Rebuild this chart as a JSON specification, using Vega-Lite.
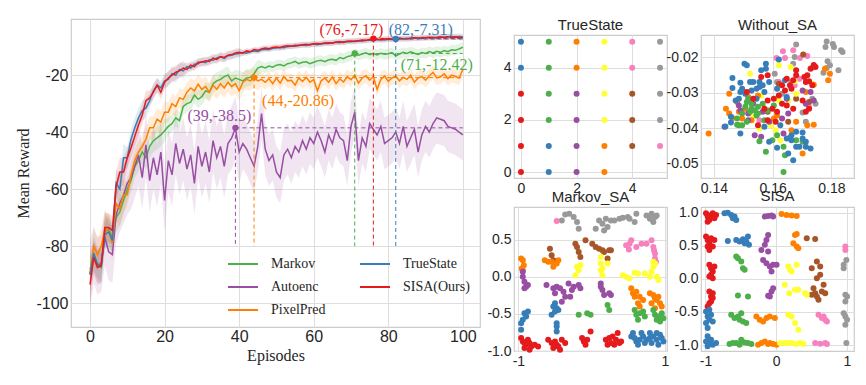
{
"$schema":"https://vega.github.io/schema/vega-lite/v6.json",
"padding":{"left":15,"top":17,"right":5,"bottom":5},
"background":"white",
"datasets":{
"lines":[
{"s":"Markov","e":0,"m":-88,"w":5},{"s":"Markov","e":1,"m":-84,"w":5},{"s":"Markov","e":2,"m":-86,"w":5},{"s":"Markov","e":3,"m":-87.5,"w":5},{"s":"Markov","e":4,"m":-75,"w":5},{"s":"Markov","e":5,"m":-74,"w":5},{"s":"Markov","e":6,"m":-77,"w":5},{"s":"Markov","e":7,"m":-70,"w":5},{"s":"Markov","e":8,"m":-68,"w":5},{"s":"Markov","e":9,"m":-64,"w":5},
{"s":"Markov","e":10,"m":-60,"w":4},{"s":"Markov","e":11,"m":-57,"w":4},{"s":"Markov","e":12,"m":-52,"w":4},{"s":"Markov","e":13,"m":-50,"w":4},{"s":"Markov","e":14,"m":-47,"w":4},{"s":"Markov","e":15,"m":-49,"w":4},{"s":"Markov","e":16,"m":-45,"w":4},{"s":"Markov","e":17,"m":-43,"w":4},{"s":"Markov","e":18,"m":-42,"w":4},{"s":"Markov","e":19,"m":-41,"w":4},{"s":"Markov","e":20,"m":-39.5,"w":4},
{"s":"Markov","e":21,"m":-38,"w":3},{"s":"Markov","e":22,"m":-37,"w":3},{"s":"Markov","e":23,"m":-35,"w":3},{"s":"Markov","e":24,"m":-36,"w":3},{"s":"Markov","e":25,"m":-31,"w":3},{"s":"Markov","e":26,"m":-30,"w":3},{"s":"Markov","e":27,"m":-29.5,"w":3},{"s":"Markov","e":28,"m":-27,"w":3},{"s":"Markov","e":29,"m":-28.5,"w":3},{"s":"Markov","e":30,"m":-27.5,"w":3},
{"s":"Markov","e":31,"m":-25.5,"w":3},{"s":"Markov","e":32,"m":-26,"w":3},{"s":"Markov","e":33,"m":-23,"w":3},{"s":"Markov","e":34,"m":-22,"w":3},{"s":"Markov","e":35,"m":-21.5,"w":3},{"s":"Markov","e":36,"m":-20.5,"w":3},{"s":"Markov","e":37,"m":-20,"w":3},{"s":"Markov","e":38,"m":-22,"w":3},{"s":"Markov","e":39,"m":-21,"w":3},{"s":"Markov","e":40,"m":-21.5,"w":3},
{"s":"Markov","e":41,"m":-22,"w":3},{"s":"Markov","e":42,"m":-21,"w":3},{"s":"Markov","e":43,"m":-20.8,"w":3},{"s":"Markov","e":44,"m":-19.5,"w":3},{"s":"Markov","e":45,"m":-17.5,"w":3},{"s":"Markov","e":46,"m":-17,"w":1.8},{"s":"Markov","e":47,"m":-17.5,"w":1.8},{"s":"Markov","e":48,"m":-16.8,"w":1.8},{"s":"Markov","e":49,"m":-17.2,"w":1.8},{"s":"Markov","e":50,"m":-16.5,"w":1.8},
{"s":"Markov","e":51,"m":-16.3,"w":1.8},{"s":"Markov","e":52,"m":-16.8,"w":1.8},{"s":"Markov","e":53,"m":-16,"w":1.8},{"s":"Markov","e":54,"m":-15.7,"w":1.8},{"s":"Markov","e":55,"m":-15.2,"w":1.8},{"s":"Markov","e":56,"m":-16,"w":1.8},{"s":"Markov","e":57,"m":-15.5,"w":1.8},{"s":"Markov","e":58,"m":-15.3,"w":1.8},{"s":"Markov","e":59,"m":-16,"w":1.8},{"s":"Markov","e":60,"m":-15.5,"w":1.8},
{"s":"Markov","e":61,"m":-15,"w":1.8},{"s":"Markov","e":62,"m":-14.8,"w":1.8},{"s":"Markov","e":63,"m":-15.3,"w":1.8},{"s":"Markov","e":64,"m":-14.6,"w":1.8},{"s":"Markov","e":65,"m":-14.4,"w":1.8},{"s":"Markov","e":66,"m":-14.8,"w":1.8},{"s":"Markov","e":67,"m":-13.8,"w":1.8},{"s":"Markov","e":68,"m":-14.2,"w":1.8},{"s":"Markov","e":69,"m":-13.5,"w":1.8},{"s":"Markov","e":70,"m":-13.2,"w":1.8},
{"s":"Markov","e":71,"m":-12.42,"w":1.8},{"s":"Markov","e":72,"m":-13,"w":1.8},{"s":"Markov","e":73,"m":-12.6,"w":1.8},{"s":"Markov","e":74,"m":-12.2,"w":1.8},{"s":"Markov","e":75,"m":-12.8,"w":1.8},{"s":"Markov","e":76,"m":-12.4,"w":1.8},{"s":"Markov","e":77,"m":-12.9,"w":1.8},{"s":"Markov","e":78,"m":-12.3,"w":1.8},{"s":"Markov","e":79,"m":-12.7,"w":1.8},{"s":"Markov","e":80,"m":-12.5,"w":1.8},
{"s":"Markov","e":81,"m":-12.1,"w":1.8},{"s":"Markov","e":82,"m":-13.2,"w":1.8},{"s":"Markov","e":83,"m":-12.6,"w":1.8},{"s":"Markov","e":84,"m":-12,"w":1.8},{"s":"Markov","e":85,"m":-12.4,"w":1.8},{"s":"Markov","e":86,"m":-11.8,"w":1.8},{"s":"Markov","e":87,"m":-12.3,"w":1.8},{"s":"Markov","e":88,"m":-12.7,"w":1.8},{"s":"Markov","e":89,"m":-12.1,"w":1.8},{"s":"Markov","e":90,"m":-12.4,"w":1.8},
{"s":"Markov","e":91,"m":-11.7,"w":1.8},{"s":"Markov","e":92,"m":-12.2,"w":1.8},{"s":"Markov","e":93,"m":-11.6,"w":1.8},{"s":"Markov","e":94,"m":-12,"w":1.8},{"s":"Markov","e":95,"m":-11.4,"w":1.8},{"s":"Markov","e":96,"m":-11.8,"w":1.8},{"s":"Markov","e":97,"m":-11.1,"w":1.8},{"s":"Markov","e":98,"m":-11.3,"w":1.8},{"s":"Markov","e":99,"m":-10.8,"w":1.8},{"s":"Markov","e":100,"m":-10.2,"w":1.8},
{"s":"Autoenc","e":0,"m":-90,"w":12},{"s":"Autoenc","e":1,"m":-83,"w":10},{"s":"Autoenc","e":2,"m":-87,"w":10},{"s":"Autoenc","e":3,"m":-86,"w":10},{"s":"Autoenc","e":4,"m":-77,"w":10},{"s":"Autoenc","e":5,"m":-82,"w":10},{"s":"Autoenc","e":6,"m":-83,"w":10},{"s":"Autoenc","e":7,"m":-69,"w":10},{"s":"Autoenc","e":8,"m":-65,"w":10},{"s":"Autoenc","e":9,"m":-62,"w":10},
{"s":"Autoenc","e":10,"m":-58,"w":11},{"s":"Autoenc","e":11,"m":-56,"w":11},{"s":"Autoenc","e":12,"m":-52,"w":11},{"s":"Autoenc","e":13,"m":-48,"w":11},{"s":"Autoenc","e":14,"m":-56,"w":11},{"s":"Autoenc","e":15,"m":-44.5,"w":11},{"s":"Autoenc","e":16,"m":-57,"w":11},{"s":"Autoenc","e":17,"m":-49,"w":11},{"s":"Autoenc","e":18,"m":-55,"w":11},{"s":"Autoenc","e":19,"m":-47,"w":11},{"s":"Autoenc","e":20,"m":-64,"w":11},
{"s":"Autoenc","e":21,"m":-50,"w":11},{"s":"Autoenc","e":22,"m":-55,"w":11},{"s":"Autoenc","e":23,"m":-44,"w":11},{"s":"Autoenc","e":24,"m":-51,"w":11},{"s":"Autoenc","e":25,"m":-46,"w":11},{"s":"Autoenc","e":26,"m":-53,"w":11},{"s":"Autoenc","e":27,"m":-48,"w":11},{"s":"Autoenc","e":28,"m":-58,"w":11},{"s":"Autoenc","e":29,"m":-45,"w":11},{"s":"Autoenc","e":30,"m":-52,"w":11},
{"s":"Autoenc","e":31,"m":-47,"w":11},{"s":"Autoenc","e":32,"m":-54,"w":11},{"s":"Autoenc","e":33,"m":-43,"w":11},{"s":"Autoenc","e":34,"m":-49,"w":11},{"s":"Autoenc","e":35,"m":-45,"w":11},{"s":"Autoenc","e":36,"m":-52,"w":11},{"s":"Autoenc","e":37,"m":-44,"w":11},{"s":"Autoenc","e":38,"m":-42,"w":11},{"s":"Autoenc","e":39,"m":-38.5,"w":11},{"s":"Autoenc","e":40,"m":-47,"w":11},
{"s":"Autoenc","e":41,"m":-44,"w":9},{"s":"Autoenc","e":42,"m":-46,"w":9},{"s":"Autoenc","e":43,"m":-49,"w":9},{"s":"Autoenc","e":44,"m":-52,"w":9},{"s":"Autoenc","e":45,"m":-45,"w":9},{"s":"Autoenc","e":46,"m":-33.5,"w":9},{"s":"Autoenc","e":47,"m":-46,"w":9},{"s":"Autoenc","e":48,"m":-50,"w":9},{"s":"Autoenc","e":49,"m":-48,"w":9},{"s":"Autoenc","e":50,"m":-54,"w":9},
{"s":"Autoenc","e":51,"m":-56,"w":9},{"s":"Autoenc","e":52,"m":-48,"w":9},{"s":"Autoenc","e":53,"m":-46,"w":9},{"s":"Autoenc","e":54,"m":-49,"w":9},{"s":"Autoenc","e":55,"m":-45,"w":9},{"s":"Autoenc","e":56,"m":-47,"w":9},{"s":"Autoenc","e":57,"m":-43,"w":9},{"s":"Autoenc","e":58,"m":-46,"w":9},{"s":"Autoenc","e":59,"m":-42,"w":9},{"s":"Autoenc","e":60,"m":-44,"w":9},
{"s":"Autoenc","e":61,"m":-40,"w":9},{"s":"Autoenc","e":62,"m":-43,"w":9},{"s":"Autoenc","e":63,"m":-47,"w":9},{"s":"Autoenc","e":64,"m":-41,"w":9},{"s":"Autoenc","e":65,"m":-44,"w":9},{"s":"Autoenc","e":66,"m":-39,"w":9},{"s":"Autoenc","e":67,"m":-42,"w":9},{"s":"Autoenc","e":68,"m":-43,"w":9},{"s":"Autoenc","e":69,"m":-50,"w":9},{"s":"Autoenc","e":70,"m":-38,"w":9},
{"s":"Autoenc","e":71,"m":-33,"w":9},{"s":"Autoenc","e":72,"m":-50,"w":9},{"s":"Autoenc","e":73,"m":-42,"w":9},{"s":"Autoenc","e":74,"m":-45,"w":9},{"s":"Autoenc","e":75,"m":-37,"w":9},{"s":"Autoenc","e":76,"m":-39,"w":9},{"s":"Autoenc","e":77,"m":-41,"w":9},{"s":"Autoenc","e":78,"m":-38,"w":9},{"s":"Autoenc","e":79,"m":-44,"w":9},{"s":"Autoenc","e":80,"m":-43,"w":9},
{"s":"Autoenc","e":81,"m":-42,"w":9},{"s":"Autoenc","e":82,"m":-40,"w":9},{"s":"Autoenc","e":83,"m":-44,"w":9},{"s":"Autoenc","e":84,"m":-38,"w":9},{"s":"Autoenc","e":85,"m":-45,"w":9},{"s":"Autoenc","e":86,"m":-42,"w":9},{"s":"Autoenc","e":87,"m":-39,"w":9},{"s":"Autoenc","e":88,"m":-47,"w":9},{"s":"Autoenc","e":89,"m":-41,"w":9},{"s":"Autoenc","e":90,"m":-38,"w":9},
{"s":"Autoenc","e":91,"m":-40,"w":9},{"s":"Autoenc","e":92,"m":-37,"w":9},{"s":"Autoenc","e":93,"m":-35,"w":9},{"s":"Autoenc","e":94,"m":-35.5,"w":9},{"s":"Autoenc","e":95,"m":-36,"w":9},{"s":"Autoenc","e":96,"m":-38,"w":9},{"s":"Autoenc","e":97,"m":-38.5,"w":9},{"s":"Autoenc","e":98,"m":-39,"w":9},{"s":"Autoenc","e":99,"m":-40,"w":9},{"s":"Autoenc","e":100,"m":-41,"w":9},
{"s":"PixelPred","e":0,"m":-89.5,"w":6},{"s":"PixelPred","e":1,"m":-80,"w":6},{"s":"PixelPred","e":2,"m":-83,"w":6},{"s":"PixelPred","e":3,"m":-80,"w":6},{"s":"PixelPred","e":4,"m":-74,"w":6},{"s":"PixelPred","e":5,"m":-74.5,"w":6},{"s":"PixelPred","e":6,"m":-79,"w":6},{"s":"PixelPred","e":7,"m":-65,"w":6},{"s":"PixelPred","e":8,"m":-67,"w":6},{"s":"PixelPred","e":9,"m":-62,"w":6},
{"s":"PixelPred","e":10,"m":-62,"w":4},{"s":"PixelPred","e":11,"m":-55,"w":4},{"s":"PixelPred","e":12,"m":-50,"w":4},{"s":"PixelPred","e":13,"m":-47,"w":4},{"s":"PixelPred","e":14,"m":-45,"w":4},{"s":"PixelPred","e":15,"m":-42.5,"w":4},{"s":"PixelPred","e":16,"m":-38.5,"w":4},{"s":"PixelPred","e":17,"m":-38.5,"w":4},{"s":"PixelPred","e":18,"m":-35.5,"w":4},{"s":"PixelPred","e":19,"m":-36.5,"w":4},{"s":"PixelPred","e":20,"m":-33,"w":4},
{"s":"PixelPred","e":21,"m":-33,"w":3.5},{"s":"PixelPred","e":22,"m":-30,"w":3.5},{"s":"PixelPred","e":23,"m":-31,"w":3.5},{"s":"PixelPred","e":24,"m":-28,"w":3.5},{"s":"PixelPred","e":25,"m":-28.5,"w":3.5},{"s":"PixelPred","e":26,"m":-26,"w":3.5},{"s":"PixelPred","e":27,"m":-24.5,"w":3.5},{"s":"PixelPred","e":28,"m":-25.5,"w":3.5},{"s":"PixelPred","e":29,"m":-23.2,"w":3.5},{"s":"PixelPred","e":30,"m":-25,"w":3.5},
{"s":"PixelPred","e":31,"m":-24,"w":3.5},{"s":"PixelPred","e":32,"m":-26,"w":3.5},{"s":"PixelPred","e":33,"m":-23.5,"w":3.5},{"s":"PixelPred","e":34,"m":-25,"w":3.5},{"s":"PixelPred","e":35,"m":-23,"w":3.5},{"s":"PixelPred","e":36,"m":-24.5,"w":3.5},{"s":"PixelPred","e":37,"m":-22.5,"w":3.5},{"s":"PixelPred","e":38,"m":-24,"w":3.5},{"s":"PixelPred","e":39,"m":-23,"w":3.5},{"s":"PixelPred","e":40,"m":-25.5,"w":3.5},
{"s":"PixelPred","e":41,"m":-22.5,"w":3.5},{"s":"PixelPred","e":42,"m":-21.5,"w":3.5},{"s":"PixelPred","e":43,"m":-22,"w":3.5},{"s":"PixelPred","e":44,"m":-20.86,"w":3.5},{"s":"PixelPred","e":45,"m":-22,"w":3.5},{"s":"PixelPred","e":46,"m":-21.5,"w":2.5},{"s":"PixelPred","e":47,"m":-22.5,"w":2.5},{"s":"PixelPred","e":48,"m":-21.2,"w":2.5},{"s":"PixelPred","e":49,"m":-23,"w":2.5},{"s":"PixelPred","e":50,"m":-21,"w":2.5},
{"s":"PixelPred","e":51,"m":-22.8,"w":2.5},{"s":"PixelPred","e":52,"m":-20.5,"w":2.5},{"s":"PixelPred","e":53,"m":-22,"w":2.5},{"s":"PixelPred","e":54,"m":-21.8,"w":2.5},{"s":"PixelPred","e":55,"m":-23.5,"w":2.5},{"s":"PixelPred","e":56,"m":-21,"w":2.5},{"s":"PixelPred","e":57,"m":-22.2,"w":2.5},{"s":"PixelPred","e":58,"m":-20.8,"w":2.5},{"s":"PixelPred","e":59,"m":-22.5,"w":2.5},{"s":"PixelPred","e":60,"m":-21.5,"w":2.5},
{"s":"PixelPred","e":61,"m":-25.5,"w":2.5},{"s":"PixelPred","e":62,"m":-22,"w":2.5},{"s":"PixelPred","e":63,"m":-21,"w":2.5},{"s":"PixelPred","e":64,"m":-22.5,"w":2.5},{"s":"PixelPred","e":65,"m":-20.6,"w":2.5},{"s":"PixelPred","e":66,"m":-23,"w":2.5},{"s":"PixelPred","e":67,"m":-21.3,"w":2.5},{"s":"PixelPred","e":68,"m":-22.4,"w":2.5},{"s":"PixelPred","e":69,"m":-20.5,"w":2.5},{"s":"PixelPred","e":70,"m":-21.6,"w":2.5},
{"s":"PixelPred","e":71,"m":-20,"w":2.5},{"s":"PixelPred","e":72,"m":-22.8,"w":2.5},{"s":"PixelPred","e":73,"m":-21,"w":2.5},{"s":"PixelPred","e":74,"m":-20.2,"w":2.5},{"s":"PixelPred","e":75,"m":-21.8,"w":2.5},{"s":"PixelPred","e":76,"m":-20.5,"w":2.5},{"s":"PixelPred","e":77,"m":-25,"w":2.5},{"s":"PixelPred","e":78,"m":-21.5,"w":2.5},{"s":"PixelPred","e":79,"m":-20.3,"w":2.5},{"s":"PixelPred","e":80,"m":-22.2,"w":2.5},
{"s":"PixelPred","e":81,"m":-21,"w":2.5},{"s":"PixelPred","e":82,"m":-20.4,"w":2.5},{"s":"PixelPred","e":83,"m":-22,"w":2.5},{"s":"PixelPred","e":84,"m":-20.8,"w":2.5},{"s":"PixelPred","e":85,"m":-21.5,"w":2.5},{"s":"PixelPred","e":86,"m":-20,"w":2.5},{"s":"PixelPred","e":87,"m":-22.5,"w":2.5},{"s":"PixelPred","e":88,"m":-21,"w":2.5},{"s":"PixelPred","e":89,"m":-20.5,"w":2.5},{"s":"PixelPred","e":90,"m":-21.8,"w":2.5},
{"s":"PixelPred","e":91,"m":-20.2,"w":2.5},{"s":"PixelPred","e":92,"m":-19,"w":2.5},{"s":"PixelPred","e":93,"m":-21,"w":2.5},{"s":"PixelPred","e":94,"m":-20.6,"w":2.5},{"s":"PixelPred","e":95,"m":-19.5,"w":2.5},{"s":"PixelPred","e":96,"m":-21.2,"w":2.5},{"s":"PixelPred","e":97,"m":-20,"w":2.5},{"s":"PixelPred","e":98,"m":-20.5,"w":2.5},{"s":"PixelPred","e":99,"m":-21,"w":2.5},{"s":"PixelPred","e":100,"m":-18,"w":2.5},
{"s":"TrueState","e":0,"m":-90,"w":6},{"s":"TrueState","e":1,"m":-82.5,"w":6},{"s":"TrueState","e":2,"m":-86.5,"w":6},{"s":"TrueState","e":3,"m":-87,"w":6},{"s":"TrueState","e":4,"m":-76,"w":5},{"s":"TrueState","e":5,"m":-75,"w":5},{"s":"TrueState","e":6,"m":-78,"w":5},{"s":"TrueState","e":7,"m":-58,"w":5},{"s":"TrueState","e":8,"m":-60,"w":5},{"s":"TrueState","e":9,"m":-49,"w":5},
{"s":"TrueState","e":10,"m":-49,"w":3.5},{"s":"TrueState","e":11,"m":-42.5,"w":3.5},{"s":"TrueState","e":12,"m":-38.5,"w":3.5},{"s":"TrueState","e":13,"m":-35,"w":3.5},{"s":"TrueState","e":14,"m":-32.5,"w":3.5},{"s":"TrueState","e":15,"m":-31.5,"w":3.5},{"s":"TrueState","e":16,"m":-29,"w":2.5},{"s":"TrueState","e":17,"m":-25.5,"w":2.5},{"s":"TrueState","e":18,"m":-23.5,"w":2.5},{"s":"TrueState","e":19,"m":-24.5,"w":2.5},{"s":"TrueState","e":20,"m":-22,"w":2.5},
{"s":"TrueState","e":21,"m":-21.5,"w":2.5},{"s":"TrueState","e":22,"m":-19.5,"w":2.5},{"s":"TrueState","e":23,"m":-20,"w":2.5},{"s":"TrueState","e":24,"m":-18,"w":2.5},{"s":"TrueState","e":25,"m":-18.5,"w":2.5},{"s":"TrueState","e":26,"m":-17,"w":1.5},{"s":"TrueState","e":27,"m":-17.5,"w":1.5},{"s":"TrueState","e":28,"m":-16.2,"w":1.5},{"s":"TrueState","e":29,"m":-16,"w":1.5},{"s":"TrueState","e":30,"m":-15.2,"w":1.5},
{"s":"TrueState","e":31,"m":-15.6,"w":1.5},{"s":"TrueState","e":32,"m":-14.6,"w":1.5},{"s":"TrueState","e":33,"m":-14.8,"w":1.5},{"s":"TrueState","e":34,"m":-14,"w":1.5},{"s":"TrueState","e":35,"m":-13.6,"w":1.5},{"s":"TrueState","e":36,"m":-14.1,"w":1.5},{"s":"TrueState","e":37,"m":-13.2,"w":1.5},{"s":"TrueState","e":38,"m":-13,"w":1.5},{"s":"TrueState","e":39,"m":-12.6,"w":1.5},{"s":"TrueState","e":40,"m":-12.4,"w":1.5},
{"s":"TrueState","e":41,"m":-12.1,"w":1},{"s":"TrueState","e":42,"m":-12.3,"w":1},{"s":"TrueState","e":43,"m":-11.7,"w":1},{"s":"TrueState","e":44,"m":-11.5,"w":1},{"s":"TrueState","e":45,"m":-11.7,"w":1},{"s":"TrueState","e":46,"m":-11.1,"w":1},{"s":"TrueState","e":47,"m":-10.9,"w":1},{"s":"TrueState","e":48,"m":-11,"w":1},{"s":"TrueState","e":49,"m":-10.6,"w":1},{"s":"TrueState","e":50,"m":-10.5,"w":1},
{"s":"TrueState","e":51,"m":-10.2,"w":1},{"s":"TrueState","e":52,"m":-10.4,"w":1},{"s":"TrueState","e":53,"m":-10,"w":1},{"s":"TrueState","e":54,"m":-9.8,"w":1},{"s":"TrueState","e":55,"m":-9.9,"w":1},{"s":"TrueState","e":56,"m":-9.5,"w":1},{"s":"TrueState","e":57,"m":-9.4,"w":1},{"s":"TrueState","e":58,"m":-9.6,"w":1},{"s":"TrueState","e":59,"m":-9.2,"w":1},{"s":"TrueState","e":60,"m":-9.1,"w":1},
{"s":"TrueState","e":61,"m":-9.3,"w":1},{"s":"TrueState","e":62,"m":-8.9,"w":1},{"s":"TrueState","e":63,"m":-8.8,"w":1},{"s":"TrueState","e":64,"m":-8.9,"w":1},{"s":"TrueState","e":65,"m":-8.6,"w":1},{"s":"TrueState","e":66,"m":-8.5,"w":1},{"s":"TrueState","e":67,"m":-8.6,"w":1},{"s":"TrueState","e":68,"m":-8.3,"w":1},{"s":"TrueState","e":69,"m":-8.2,"w":1},{"s":"TrueState","e":70,"m":-8.3,"w":1},
{"s":"TrueState","e":71,"m":-8,"w":1},{"s":"TrueState","e":72,"m":-7.9,"w":1},{"s":"TrueState","e":73,"m":-8.1,"w":1},{"s":"TrueState","e":74,"m":-7.8,"w":1},{"s":"TrueState","e":75,"m":-7.7,"w":1},{"s":"TrueState","e":76,"m":-7.8,"w":1},{"s":"TrueState","e":77,"m":-7.6,"w":1},{"s":"TrueState","e":78,"m":-7.5,"w":1},{"s":"TrueState","e":79,"m":-7.7,"w":1},{"s":"TrueState","e":80,"m":-7.4,"w":1},
{"s":"TrueState","e":81,"m":-7.5,"w":1},{"s":"TrueState","e":82,"m":-7.31,"w":1},{"s":"TrueState","e":83,"m":-7.4,"w":1},{"s":"TrueState","e":84,"m":-7.2,"w":1},{"s":"TrueState","e":85,"m":-7.1,"w":1},{"s":"TrueState","e":86,"m":-7.3,"w":1},{"s":"TrueState","e":87,"m":-7,"w":1},{"s":"TrueState","e":88,"m":-6.9,"w":1},{"s":"TrueState","e":89,"m":-7.1,"w":1},{"s":"TrueState","e":90,"m":-6.8,"w":1},
{"s":"TrueState","e":91,"m":-6.9,"w":1},{"s":"TrueState","e":92,"m":-6.7,"w":1},{"s":"TrueState","e":93,"m":-6.8,"w":1},{"s":"TrueState","e":94,"m":-6.6,"w":1},{"s":"TrueState","e":95,"m":-6.7,"w":1},{"s":"TrueState","e":96,"m":-6.5,"w":1},{"s":"TrueState","e":97,"m":-6.4,"w":1},{"s":"TrueState","e":98,"m":-6.6,"w":1},{"s":"TrueState","e":99,"m":-6.4,"w":1},{"s":"TrueState","e":100,"m":-6.5,"w":1},
{"s":"SISA(Ours)","e":0,"m":-93.5,"w":6},{"s":"SISA(Ours)","e":1,"m":-84,"w":6},{"s":"SISA(Ours)","e":2,"m":-87.5,"w":6},{"s":"SISA(Ours)","e":3,"m":-87,"w":6},{"s":"SISA(Ours)","e":4,"m":-73.5,"w":5},{"s":"SISA(Ours)","e":5,"m":-73.5,"w":5},{"s":"SISA(Ours)","e":6,"m":-74.5,"w":5},{"s":"SISA(Ours)","e":7,"m":-59,"w":5},{"s":"SISA(Ours)","e":8,"m":-54,"w":5},{"s":"SISA(Ours)","e":9,"m":-54,"w":5},
{"s":"SISA(Ours)","e":10,"m":-49,"w":3.5},{"s":"SISA(Ours)","e":11,"m":-45.5,"w":3.5},{"s":"SISA(Ours)","e":12,"m":-41.5,"w":3.5},{"s":"SISA(Ours)","e":13,"m":-37.5,"w":3.5},{"s":"SISA(Ours)","e":14,"m":-34,"w":3.5},{"s":"SISA(Ours)","e":15,"m":-29,"w":3.5},{"s":"SISA(Ours)","e":16,"m":-28,"w":2.5},{"s":"SISA(Ours)","e":17,"m":-26,"w":2.5},{"s":"SISA(Ours)","e":18,"m":-23.5,"w":2.5},{"s":"SISA(Ours)","e":19,"m":-26,"w":2.5},{"s":"SISA(Ours)","e":20,"m":-22.5,"w":2.5},
{"s":"SISA(Ours)","e":21,"m":-21,"w":2.5},{"s":"SISA(Ours)","e":22,"m":-20,"w":2.5},{"s":"SISA(Ours)","e":23,"m":-19,"w":2.5},{"s":"SISA(Ours)","e":24,"m":-18.5,"w":2.5},{"s":"SISA(Ours)","e":25,"m":-17.5,"w":2.5},{"s":"SISA(Ours)","e":26,"m":-18,"w":1.5},{"s":"SISA(Ours)","e":27,"m":-16.5,"w":1.5},{"s":"SISA(Ours)","e":28,"m":-17,"w":1.5},{"s":"SISA(Ours)","e":29,"m":-15.5,"w":1.5},{"s":"SISA(Ours)","e":30,"m":-15.5,"w":1.5},
{"s":"SISA(Ours)","e":31,"m":-15,"w":1.5},{"s":"SISA(Ours)","e":32,"m":-15.2,"w":1.5},{"s":"SISA(Ours)","e":33,"m":-14,"w":1.5},{"s":"SISA(Ours)","e":34,"m":-14.5,"w":1.5},{"s":"SISA(Ours)","e":35,"m":-13.5,"w":1.5},{"s":"SISA(Ours)","e":36,"m":-13.8,"w":1.5},{"s":"SISA(Ours)","e":37,"m":-13,"w":1.5},{"s":"SISA(Ours)","e":38,"m":-12.8,"w":1.5},{"s":"SISA(Ours)","e":39,"m":-12.2,"w":1.5},{"s":"SISA(Ours)","e":40,"m":-12,"w":1.5},
{"s":"SISA(Ours)","e":41,"m":-12.3,"w":1},{"s":"SISA(Ours)","e":42,"m":-11.5,"w":1},{"s":"SISA(Ours)","e":43,"m":-11.8,"w":1},{"s":"SISA(Ours)","e":44,"m":-11,"w":1},{"s":"SISA(Ours)","e":45,"m":-11.3,"w":1},{"s":"SISA(Ours)","e":46,"m":-10.8,"w":1},{"s":"SISA(Ours)","e":47,"m":-10.5,"w":1},{"s":"SISA(Ours)","e":48,"m":-10.7,"w":1},{"s":"SISA(Ours)","e":49,"m":-10.3,"w":1},{"s":"SISA(Ours)","e":50,"m":-10.1,"w":1},
{"s":"SISA(Ours)","e":51,"m":-10.4,"w":1},{"s":"SISA(Ours)","e":52,"m":-9.9,"w":1},{"s":"SISA(Ours)","e":53,"m":-9.7,"w":1},{"s":"SISA(Ours)","e":54,"m":-9.9,"w":1},{"s":"SISA(Ours)","e":55,"m":-9.5,"w":1},{"s":"SISA(Ours)","e":56,"m":-9.6,"w":1},{"s":"SISA(Ours)","e":57,"m":-9.3,"w":1},{"s":"SISA(Ours)","e":58,"m":-9.2,"w":1},{"s":"SISA(Ours)","e":59,"m":-9.4,"w":1},{"s":"SISA(Ours)","e":60,"m":-9,"w":1},
{"s":"SISA(Ours)","e":61,"m":-8.9,"w":1},{"s":"SISA(Ours)","e":62,"m":-9.1,"w":1},{"s":"SISA(Ours)","e":63,"m":-8.7,"w":1},{"s":"SISA(Ours)","e":64,"m":-8.6,"w":1},{"s":"SISA(Ours)","e":65,"m":-8.8,"w":1},{"s":"SISA(Ours)","e":66,"m":-8.4,"w":1},{"s":"SISA(Ours)","e":67,"m":-8.3,"w":1},{"s":"SISA(Ours)","e":68,"m":-8.5,"w":1},{"s":"SISA(Ours)","e":69,"m":-8.1,"w":1},{"s":"SISA(Ours)","e":70,"m":-8,"w":1},
{"s":"SISA(Ours)","e":71,"m":-8.2,"w":1},{"s":"SISA(Ours)","e":72,"m":-7.9,"w":1},{"s":"SISA(Ours)","e":73,"m":-7.7,"w":1},{"s":"SISA(Ours)","e":74,"m":-7.8,"w":1},{"s":"SISA(Ours)","e":75,"m":-7.5,"w":1},{"s":"SISA(Ours)","e":76,"m":-7.17,"w":1},{"s":"SISA(Ours)","e":77,"m":-7.4,"w":1},{"s":"SISA(Ours)","e":78,"m":-7.6,"w":1},{"s":"SISA(Ours)","e":79,"m":-7.3,"w":1},{"s":"SISA(Ours)","e":80,"m":-7.2,"w":1},
{"s":"SISA(Ours)","e":81,"m":-7.4,"w":1},{"s":"SISA(Ours)","e":82,"m":-7.1,"w":1},{"s":"SISA(Ours)","e":83,"m":-7,"w":1},{"s":"SISA(Ours)","e":84,"m":-7.2,"w":1},{"s":"SISA(Ours)","e":85,"m":-7.3,"w":1},{"s":"SISA(Ours)","e":86,"m":-7,"w":1},{"s":"SISA(Ours)","e":87,"m":-6.9,"w":1},{"s":"SISA(Ours)","e":88,"m":-7.1,"w":1},{"s":"SISA(Ours)","e":89,"m":-6.8,"w":1},{"s":"SISA(Ours)","e":90,"m":-6.9,"w":1},
{"s":"SISA(Ours)","e":91,"m":-6.7,"w":1},{"s":"SISA(Ours)","e":92,"m":-6.9,"w":1},{"s":"SISA(Ours)","e":93,"m":-6.8,"w":1},{"s":"SISA(Ours)","e":94,"m":-6.6,"w":1},{"s":"SISA(Ours)","e":95,"m":-6.8,"w":1},{"s":"SISA(Ours)","e":96,"m":-6.5,"w":1},{"s":"SISA(Ours)","e":97,"m":-6.7,"w":1},{"s":"SISA(Ours)","e":98,"m":-6.6,"w":1},{"s":"SISA(Ours)","e":99,"m":-6.8,"w":1},{"s":"SISA(Ours)","e":100,"m":-6.9,"w":1}
],
"ann":[
{"s":"SISA(Ours)","e":76,"m":-7.17,"lab":"(76,-7.17)"},
{"s":"TrueState","e":82,"m":-7.31,"lab":"(82,-7.31)"},
{"s":"Markov","e":71,"m":-12.42,"lab":"(71,-12.42)"},
{"s":"PixelPred","e":44,"m":-20.86,"lab":"(44,-20.86)"},
{"s":"Autoenc","e":39,"m":-38.5,"lab":"(39,-38.5)"}
],
"ts":[
{"x":0,"y":0,"c":"r"},{"x":1,"y":0,"c":"b"},{"x":2,"y":0,"c":"p"},{"x":3,"y":0,"c":"o"},
{"x":0,"y":1,"c":"r"},{"x":1,"y":1,"c":"b"},{"x":2,"y":1,"c":"p"},{"x":3,"y":1,"c":"o"},{"x":4,"y":1,"c":"n"},{"x":5,"y":1,"c":"k"},
{"x":0,"y":2,"c":"r"},{"x":1,"y":2,"c":"g"},{"x":2,"y":2,"c":"p"},{"x":3,"y":2,"c":"y"},{"x":4,"y":2,"c":"n"},{"x":5,"y":2,"c":"a"},
{"x":0,"y":3,"c":"r"},{"x":1,"y":3,"c":"g"},{"x":2,"y":3,"c":"p"},{"x":3,"y":3,"c":"y"},{"x":4,"y":3,"c":"n"},{"x":5,"y":3,"c":"a"},
{"x":0,"y":4,"c":"b"},{"x":1,"y":4,"c":"g"},{"x":2,"y":4,"c":"o"},{"x":3,"y":4,"c":"y"},{"x":4,"y":4,"c":"k"},{"x":5,"y":4,"c":"a"},
{"x":0,"y":5,"c":"b"},{"x":1,"y":5,"c":"g"},{"x":2,"y":5,"c":"o"},{"x":3,"y":5,"c":"y"},{"x":4,"y":5,"c":"k"},{"x":5,"y":5,"c":"a"}
],
"wsa":[
{"x":0.1784,"y":-0.0156,"c":"a"},{"x":0.178,"y":-0.0172,"c":"a"},{"x":0.1805,"y":-0.0163,"c":"a"},{"x":0.1809,"y":-0.0172,"c":"a"},{"x":0.1833,"y":-0.0181,"c":"a"},{"x":0.1838,"y":-0.0186,"c":"a"},{"x":0.1787,"y":-0.0212,"c":"a"},{"x":0.1795,"y":-0.0223,"c":"a"},{"x":0.1784,"y":-0.0231,"c":"a"},{"x":0.1773,"y":-0.0244,"c":"a"},{"x":0.1824,"y":-0.0237,"c":"a"},{"x":0.168,"y":-0.0165,"c":"a"},{"x":0.1675,"y":-0.02,"c":"a"},{"x":0.167,"y":-0.0219,"c":"a"},{"x":0.1607,"y":-0.0247,"c":"a"},{"x":0.1615,"y":-0.027,"c":"a"},{"x":0.1632,"y":-0.0303,"c":"a"},{"x":0.1733,"y":-0.0231,"c":"a"},{"x":0.1746,"y":-0.0331,"c":"a"},{"x":0.1713,"y":-0.0382,"c":"a"},{"x":0.1702,"y":-0.0356,"c":"a"},{"x":0.1735,"y":-0.0317,"c":"a"},{"x":0.1664,"y":-0.027,"c":"a"},
{"x":0.1635,"y":-0.0184,"c":"k"},{"x":0.1613,"y":-0.0203,"c":"k"},{"x":0.1642,"y":-0.0203,"c":"k"},{"x":0.167,"y":-0.0181,"c":"k"},{"x":0.1693,"y":-0.0203,"c":"k"},{"x":0.1718,"y":-0.0197,"c":"k"},{"x":0.1621,"y":-0.027,"c":"k"},{"x":0.1691,"y":-0.0261,"c":"k"},{"x":0.1675,"y":-0.0279,"c":"k"},{"x":0.1724,"y":-0.034,"c":"k"},{"x":0.1555,"y":-0.0378,"c":"k"},
{"x":0.1704,"y":-0.0193,"c":"n"},{"x":0.1621,"y":-0.0275,"c":"n"},{"x":0.168,"y":-0.0317,"c":"n"},{"x":0.1653,"y":-0.0382,"c":"n"},{"x":0.1724,"y":-0.0326,"c":"n"},{"x":0.1583,"y":-0.0354,"c":"n"},
{"x":0.1523,"y":-0.0247,"c":"y"},{"x":0.1621,"y":-0.0223,"c":"y"},{"x":0.1661,"y":-0.0228,"c":"y"},{"x":0.1675,"y":-0.0268,"c":"y"},{"x":0.168,"y":-0.0303,"c":"y"},{"x":0.1653,"y":-0.0322,"c":"y"},{"x":0.1621,"y":-0.0322,"c":"y"},{"x":0.1593,"y":-0.0392,"c":"y"},{"x":0.161,"y":-0.0406,"c":"y"},{"x":0.1555,"y":-0.0401,"c":"y"},{"x":0.1626,"y":-0.0434,"c":"y"},{"x":0.1735,"y":-0.0275,"c":"y"},{"x":0.1534,"y":-0.0368,"c":"y"},{"x":0.1561,"y":-0.0308,"c":"y"},
{"x":0.1795,"y":-0.0247,"c":"o"},{"x":0.1789,"y":-0.0265,"c":"o"},{"x":0.174,"y":-0.0278,"c":"o"},{"x":0.1713,"y":-0.0298,"c":"o"},{"x":0.1778,"y":-0.0233,"c":"o"},{"x":0.1718,"y":-0.0392,"c":"o"},{"x":0.174,"y":-0.039,"c":"o"},{"x":0.168,"y":-0.0382,"c":"o"},{"x":0.1664,"y":-0.0406,"c":"o"},{"x":0.1604,"y":-0.0373,"c":"o"},{"x":0.155,"y":-0.0308,"c":"o"},{"x":0.1517,"y":-0.0312,"c":"o"},{"x":0.1479,"y":-0.0326,"c":"o"},{"x":0.1452,"y":-0.0303,"c":"o"},{"x":0.1441,"y":-0.0345,"c":"o"},{"x":0.1452,"y":-0.0359,"c":"o"},{"x":0.1485,"y":-0.0354,"c":"o"},{"x":0.1463,"y":-0.0371,"c":"o"},{"x":0.1507,"y":-0.0345,"c":"o"},{"x":0.1496,"y":-0.0373,"c":"o"},{"x":0.1528,"y":-0.0378,"c":"o"},{"x":0.1382,"y":-0.0415,"c":"o"},{"x":0.1659,"y":-0.0427,"c":"o"},{"x":0.1702,"y":-0.0471,"c":"o"},{"x":0.1615,"y":-0.0364,"c":"o"},
{"x":0.174,"y":-0.0322,"c":"p"},{"x":0.1729,"y":-0.0298,"c":"p"},{"x":0.1702,"y":-0.0294,"c":"p"},{"x":0.1713,"y":-0.0331,"c":"p"},{"x":0.1653,"y":-0.0359,"c":"p"},{"x":0.1632,"y":-0.0373,"c":"p"},{"x":0.1588,"y":-0.0382,"c":"p"},{"x":0.1566,"y":-0.0354,"c":"p"},{"x":0.1534,"y":-0.0331,"c":"p"},{"x":0.1517,"y":-0.0359,"c":"p"},{"x":0.1485,"y":-0.0336,"c":"p"},{"x":0.149,"y":-0.035,"c":"p"},{"x":0.1517,"y":-0.0378,"c":"p"},{"x":0.1436,"y":-0.0396,"c":"p"},{"x":0.1539,"y":-0.042,"c":"p"},{"x":0.1561,"y":-0.0424,"c":"p"},{"x":0.1648,"y":-0.0317,"c":"p"},{"x":0.1637,"y":-0.0415,"c":"p"},
{"x":0.1517,"y":-0.0317,"c":"g"},{"x":0.1528,"y":-0.0331,"c":"g"},{"x":0.1512,"y":-0.0326,"c":"g"},{"x":0.1507,"y":-0.034,"c":"g"},{"x":0.1528,"y":-0.0345,"c":"g"},{"x":0.1539,"y":-0.035,"c":"g"},{"x":0.1545,"y":-0.0364,"c":"g"},{"x":0.1496,"y":-0.0359,"c":"g"},{"x":0.1479,"y":-0.0373,"c":"g"},{"x":0.1523,"y":-0.0354,"c":"g"},{"x":0.1485,"y":-0.0392,"c":"g"},{"x":0.155,"y":-0.034,"c":"g"},{"x":0.1566,"y":-0.0331,"c":"g"},{"x":0.1583,"y":-0.035,"c":"g"},{"x":0.1604,"y":-0.0336,"c":"g"},{"x":0.1615,"y":-0.042,"c":"g"},{"x":0.1599,"y":-0.0434,"c":"g"},{"x":0.1555,"y":-0.0437,"c":"g"},{"x":0.1577,"y":-0.0466,"c":"g"},{"x":0.1637,"y":-0.0452,"c":"g"},{"x":0.1642,"y":-0.0476,"c":"g"},{"x":0.1637,"y":-0.0523,"c":"g"},{"x":0.168,"y":-0.0434,"c":"g"},{"x":0.1702,"y":-0.0438,"c":"g"},{"x":0.1479,"y":-0.039,"c":"g"},{"x":0.1496,"y":-0.0392,"c":"g"},{"x":0.1512,"y":-0.0382,"c":"g"},{"x":0.1572,"y":-0.0378,"c":"g"},{"x":0.155,"y":-0.0359,"c":"g"},
{"x":0.1504,"y":-0.0219,"c":"b"},{"x":0.1512,"y":-0.0223,"c":"b"},{"x":0.1463,"y":-0.0259,"c":"b"},{"x":0.1463,"y":-0.0287,"c":"b"},{"x":0.149,"y":-0.0272,"c":"b"},{"x":0.1523,"y":-0.027,"c":"b"},{"x":0.1534,"y":-0.027,"c":"b"},{"x":0.1555,"y":-0.027,"c":"b"},{"x":0.1577,"y":-0.0219,"c":"b"},{"x":0.1577,"y":-0.0233,"c":"b"},{"x":0.1561,"y":-0.0237,"c":"b"},{"x":0.1555,"y":-0.0284,"c":"b"},{"x":0.1566,"y":-0.0279,"c":"b"},{"x":0.1545,"y":-0.0289,"c":"b"},{"x":0.1528,"y":-0.0294,"c":"b"},{"x":0.1496,"y":-0.0289,"c":"b"},{"x":0.149,"y":-0.0298,"c":"b"},{"x":0.1507,"y":-0.0303,"c":"b"},{"x":0.1485,"y":-0.0317,"c":"b"},{"x":0.1474,"y":-0.0322,"c":"b"},{"x":0.1458,"y":-0.0368,"c":"b"},{"x":0.1458,"y":-0.0384,"c":"b"},{"x":0.1439,"y":-0.0395,"c":"b"},{"x":0.149,"y":-0.0415,"c":"b"},{"x":0.1572,"y":-0.0396,"c":"b"},{"x":0.1588,"y":-0.0438,"c":"b"},{"x":0.1615,"y":-0.0455,"c":"b"},{"x":0.1648,"y":-0.0429,"c":"b"},{"x":0.1664,"y":-0.042,"c":"b"},{"x":0.168,"y":-0.041,"c":"b"},{"x":0.1702,"y":-0.0412,"c":"b"},{"x":0.1691,"y":-0.0452,"c":"b"},{"x":0.1713,"y":-0.0452,"c":"b"},{"x":0.1729,"y":-0.0457,"c":"b"},{"x":0.167,"y":-0.049,"c":"b"},{"x":0.1653,"y":-0.0471,"c":"b"},{"x":0.1615,"y":-0.0289,"c":"b"},{"x":0.1621,"y":-0.0207,"c":"b"},{"x":0.1642,"y":-0.0265,"c":"b"},{"x":0.1588,"y":-0.027,"c":"b"},{"x":0.1572,"y":-0.0298,"c":"b"},{"x":0.1545,"y":-0.0317,"c":"b"},{"x":0.1648,"y":-0.0312,"c":"b"},{"x":0.1702,"y":-0.0429,"c":"b"},{"x":0.1713,"y":-0.0438,"c":"b"},{"x":0.168,"y":-0.0452,"c":"b"},{"x":0.1664,"y":-0.0434,"c":"b"},{"x":0.1626,"y":-0.0392,"c":"b"},
{"x":0.174,"y":-0.0222,"c":"r"},{"x":0.1729,"y":-0.0233,"c":"r"},{"x":0.1746,"y":-0.0228,"c":"r"},{"x":0.1718,"y":-0.0251,"c":"r"},{"x":0.1708,"y":-0.0256,"c":"r"},{"x":0.1724,"y":-0.0268,"c":"r"},{"x":0.1735,"y":-0.0279,"c":"r"},{"x":0.168,"y":-0.0251,"c":"r"},{"x":0.167,"y":-0.0265,"c":"r"},{"x":0.1659,"y":-0.0279,"c":"r"},{"x":0.1664,"y":-0.0289,"c":"r"},{"x":0.1648,"y":-0.0261,"c":"r"},{"x":0.1632,"y":-0.0279,"c":"r"},{"x":0.1642,"y":-0.0294,"c":"r"},{"x":0.1621,"y":-0.0308,"c":"r"},{"x":0.1604,"y":-0.0317,"c":"r"},{"x":0.1599,"y":-0.0345,"c":"r"},{"x":0.1615,"y":-0.0354,"c":"r"},{"x":0.1583,"y":-0.0322,"c":"r"},{"x":0.1572,"y":-0.0345,"c":"r"},{"x":0.1632,"y":-0.0331,"c":"r"},{"x":0.1648,"y":-0.0336,"c":"r"},{"x":0.167,"y":-0.0345,"c":"r"},{"x":0.1702,"y":-0.0322,"c":"r"},{"x":0.1724,"y":-0.0345,"c":"r"},{"x":0.1713,"y":-0.0354,"c":"r"},{"x":0.161,"y":-0.0382,"c":"r"},{"x":0.1583,"y":-0.0378,"c":"r"},{"x":0.155,"y":-0.0392,"c":"r"},{"x":0.1512,"y":-0.0298,"c":"r"},{"x":0.1534,"y":-0.0317,"c":"r"},{"x":0.1561,"y":-0.0256,"c":"r"},{"x":0.1583,"y":-0.0251,"c":"r"},{"x":0.1713,"y":-0.027,"c":"r"},{"x":0.168,"y":-0.0237,"c":"r"}
],
"msa":[
{"x":-0.361,"y":0.839,"c":"a"},{"x":-0.306,"y":0.848,"c":"a"},{"x":-0.245,"y":0.804,"c":"a"},{"x":-0.199,"y":0.737,"c":"a"},{"x":-0.176,"y":0.647,"c":"a"},{"x":-0.407,"y":0.759,"c":"a"},{"x":0.102,"y":0.759,"c":"a"},{"x":0.148,"y":0.714,"c":"a"},{"x":0.194,"y":0.781,"c":"a"},{"x":0.218,"y":0.67,"c":"a"},{"x":0.171,"y":0.625,"c":"a"},{"x":0.056,"y":0.647,"c":"a"},{"x":0.264,"y":0.759,"c":"a"},{"x":0.31,"y":0.759,"c":"a"},{"x":0.38,"y":0.781,"c":"a"},{"x":0.426,"y":0.795,"c":"a"},{"x":0.495,"y":0.804,"c":"a"},{"x":0.519,"y":0.781,"c":"a"},{"x":0.611,"y":0.848,"c":"a"},{"x":0.588,"y":0.737,"c":"a"},{"x":0.75,"y":0.826,"c":"a"},{"x":0.819,"y":0.848,"c":"a"},{"x":0.866,"y":0.804,"c":"a"},{"x":0.889,"y":0.826,"c":"a"},{"x":0.796,"y":0.781,"c":"a"},{"x":0.843,"y":0.737,"c":"a"},
{"x":-0.477,"y":0.75,"c":"k"},{"x":0.472,"y":0.424,"c":"k"},{"x":0.519,"y":0.446,"c":"k"},{"x":0.542,"y":0.491,"c":"k"},{"x":0.611,"y":0.402,"c":"k"},{"x":0.509,"y":0.366,"c":"k"},{"x":0.681,"y":0.446,"c":"k"},{"x":0.75,"y":0.446,"c":"k"},{"x":0.819,"y":0.491,"c":"k"},{"x":0.843,"y":0.402,"c":"k"},{"x":0.866,"y":0.313,"c":"k"},{"x":0.866,"y":0.246,"c":"k"},{"x":0.852,"y":0.357,"c":"k"},{"x":0.88,"y":0.201,"c":"k"},
{"x":-0.222,"y":0.446,"c":"n"},{"x":-0.199,"y":0.402,"c":"n"},{"x":-0.176,"y":0.335,"c":"n"},{"x":-0.153,"y":0.268,"c":"n"},{"x":-0.083,"y":0.491,"c":"n"},{"x":0.009,"y":0.446,"c":"n"},{"x":0.056,"y":0.402,"c":"n"},{"x":0.102,"y":0.379,"c":"n"},{"x":0.148,"y":0.357,"c":"n"},{"x":0.171,"y":0.335,"c":"n"},{"x":0.241,"y":0.357,"c":"n"},{"x":0.264,"y":0.357,"c":"n"},{"x":0.218,"y":0.246,"c":"n"},{"x":-0.569,"y":0.379,"c":"n"},{"x":-0.546,"y":0.29,"c":"n"},{"x":-0.523,"y":0.223,"c":"n"},
{"x":-0.963,"y":0.246,"c":"o"},{"x":-0.94,"y":0.223,"c":"o"},{"x":-0.926,"y":0.156,"c":"o"},{"x":-0.954,"y":0.112,"c":"o"},{"x":-0.94,"y":0.089,"c":"o"},{"x":-0.639,"y":0.223,"c":"o"},{"x":-0.593,"y":0.201,"c":"o"},{"x":-0.546,"y":0.201,"c":"o"},{"x":-0.477,"y":0.179,"c":"o"},{"x":-0.454,"y":0.223,"c":"o"},{"x":-0.523,"y":0.134,"c":"o"},
{"x":0.542,"y":-0.156,"c":"o"},{"x":0.565,"y":-0.223,"c":"o"},{"x":0.588,"y":-0.268,"c":"o"},{"x":0.611,"y":-0.201,"c":"o"},{"x":0.657,"y":-0.268,"c":"o"},{"x":0.704,"y":-0.313,"c":"o"},{"x":0.796,"y":-0.223,"c":"o"},{"x":0.843,"y":-0.246,"c":"o"},{"x":0.866,"y":-0.29,"c":"o"},{"x":0.889,"y":-0.313,"c":"o"},{"x":0.912,"y":-0.268,"c":"o"},{"x":0.935,"y":-0.357,"c":"o"},{"x":0.958,"y":-0.402,"c":"o"},{"x":0.819,"y":-0.357,"c":"o"},{"x":0.866,"y":-0.424,"c":"o"},{"x":0.634,"y":-0.357,"c":"o"},{"x":0.657,"y":-0.402,"c":"o"},
{"x":-0.222,"y":0.022,"c":"y"},{"x":-0.176,"y":0.089,"c":"y"},{"x":-0.153,"y":0.156,"c":"y"},{"x":-0.199,"y":0.134,"c":"y"},{"x":0.125,"y":0.268,"c":"y"},{"x":0.125,"y":0.179,"c":"y"},{"x":0.125,"y":0.089,"c":"y"},{"x":0.148,"y":0.022,"c":"y"},{"x":0.148,"y":0.112,"c":"y"},{"x":0.218,"y":0.179,"c":"y"},{"x":0.426,"y":0.022,"c":"y"},{"x":0.472,"y":0,"c":"y"},{"x":0.519,"y":-0.022,"c":"y"},{"x":0.588,"y":0.054,"c":"y"},{"x":0.634,"y":0.045,"c":"y"},{"x":0.727,"y":0.045,"c":"y"},{"x":0.796,"y":0,"c":"y"},{"x":0.819,"y":0.067,"c":"y"},{"x":0.843,"y":0.134,"c":"y"},{"x":0.866,"y":0.179,"c":"y"},{"x":0.889,"y":0,"c":"y"},{"x":0.912,"y":-0.045,"c":"y"},{"x":0.843,"y":0.201,"c":"y"},
{"x":-0.94,"y":0.067,"c":"p"},{"x":-0.94,"y":0,"c":"p"},{"x":-0.917,"y":-0.067,"c":"p"},{"x":-0.894,"y":-0.134,"c":"p"},{"x":-0.87,"y":-0.112,"c":"p"},{"x":-0.917,"y":-0.156,"c":"p"},{"x":-0.616,"y":-0.112,"c":"p"},{"x":-0.523,"y":-0.156,"c":"p"},{"x":-0.5,"y":-0.223,"c":"p"},{"x":-0.477,"y":-0.134,"c":"p"},{"x":-0.431,"y":-0.156,"c":"p"},{"x":-0.384,"y":-0.201,"c":"p"},{"x":-0.361,"y":-0.268,"c":"p"},{"x":-0.407,"y":-0.335,"c":"p"},{"x":-0.315,"y":-0.089,"c":"p"},{"x":-0.269,"y":-0.179,"c":"p"},{"x":-0.245,"y":-0.134,"c":"p"},{"x":-0.176,"y":-0.112,"c":"p"},{"x":-0.153,"y":-0.156,"c":"p"},{"x":-0.292,"y":-0.268,"c":"p"},{"x":0.125,"y":-0.089,"c":"p"},{"x":0.148,"y":-0.179,"c":"p"},{"x":0.171,"y":-0.246,"c":"p"},{"x":0.241,"y":-0.223,"c":"p"},{"x":0.264,"y":-0.246,"c":"p"},{"x":0.125,"y":-0.134,"c":"p"},
{"x":-0.917,"y":-0.491,"c":"b"},{"x":-0.894,"y":-0.536,"c":"b"},{"x":-0.87,"y":-0.469,"c":"b"},{"x":-0.94,"y":-0.58,"c":"b"},{"x":-0.963,"y":-0.625,"c":"b"},{"x":-0.963,"y":-0.714,"c":"b"},{"x":-0.523,"y":-0.402,"c":"b"},{"x":-0.5,"y":-0.469,"c":"b"},{"x":-0.477,"y":-0.424,"c":"b"},{"x":-0.546,"y":-0.513,"c":"b"},{"x":-0.454,"y":-0.446,"c":"b"},{"x":-0.477,"y":-0.625,"c":"b"},{"x":-0.477,"y":-0.67,"c":"b"},{"x":-0.477,"y":-0.737,"c":"b"},{"x":-0.5,"y":-0.357,"c":"b"},
{"x":-0.176,"y":-0.513,"c":"g"},{"x":-0.06,"y":-0.491,"c":"g"},{"x":-0.014,"y":-0.513,"c":"g"},{"x":0.218,"y":-0.379,"c":"g"},{"x":0.241,"y":-0.446,"c":"g"},{"x":0.588,"y":-0.446,"c":"g"},{"x":0.611,"y":-0.513,"c":"g"},{"x":0.657,"y":-0.491,"c":"g"},{"x":0.704,"y":-0.469,"c":"g"},{"x":0.634,"y":-0.58,"c":"g"},{"x":0.727,"y":-0.536,"c":"g"},{"x":0.843,"y":-0.446,"c":"g"},{"x":0.866,"y":-0.513,"c":"g"},{"x":0.912,"y":-0.536,"c":"g"},{"x":0.935,"y":-0.603,"c":"g"},{"x":0.889,"y":-0.58,"c":"g"},{"x":0.958,"y":-0.491,"c":"g"},{"x":0.981,"y":-0.558,"c":"g"},
{"x":-0.963,"y":-0.826,"c":"r"},{"x":-0.94,"y":-0.871,"c":"r"},{"x":-0.917,"y":-0.893,"c":"r"},{"x":-0.894,"y":-0.915,"c":"r"},{"x":-0.87,"y":-0.848,"c":"r"},{"x":-0.847,"y":-0.893,"c":"r"},{"x":-0.824,"y":-0.938,"c":"r"},{"x":-0.778,"y":-0.915,"c":"r"},{"x":-0.731,"y":-0.938,"c":"r"},{"x":-0.917,"y":-0.96,"c":"r"},{"x":-0.847,"y":-0.982,"c":"r"},{"x":-0.593,"y":-0.848,"c":"r"},{"x":-0.546,"y":-0.893,"c":"r"},{"x":-0.5,"y":-0.871,"c":"r"},{"x":-0.477,"y":-0.915,"c":"r"},{"x":-0.454,"y":-0.938,"c":"r"},{"x":-0.407,"y":-0.848,"c":"r"},{"x":-0.361,"y":-0.893,"c":"r"},{"x":-0.523,"y":-0.96,"c":"r"},{"x":-0.431,"y":-0.982,"c":"r"},{"x":-0.13,"y":-0.826,"c":"r"},{"x":-0.106,"y":-0.871,"c":"r"},{"x":-0.083,"y":-0.915,"c":"r"},{"x":-0.06,"y":-0.848,"c":"r"},{"x":-0.014,"y":-0.737,"c":"r"},{"x":0.194,"y":-0.848,"c":"r"},{"x":0.241,"y":-0.826,"c":"r"},{"x":0.287,"y":-0.804,"c":"r"},{"x":0.333,"y":-0.848,"c":"r"},{"x":0.38,"y":-0.893,"c":"r"},{"x":0.31,"y":-0.915,"c":"r"},{"x":0.264,"y":-0.893,"c":"r"},{"x":0.218,"y":-0.915,"c":"r"},{"x":0.356,"y":-0.759,"c":"r"},{"x":0.403,"y":-0.871,"c":"r"},
{"x":0.542,"y":-0.804,"c":"b"},{"x":0.588,"y":-0.826,"c":"b"},{"x":0.611,"y":-0.871,"c":"b"},{"x":0.657,"y":-0.848,"c":"b"},{"x":0.704,"y":-0.804,"c":"b"},{"x":0.75,"y":-0.848,"c":"b"},{"x":0.796,"y":-0.826,"c":"b"},{"x":0.843,"y":-0.804,"c":"b"},{"x":0.889,"y":-0.848,"c":"b"},{"x":0.935,"y":-0.781,"c":"b"},{"x":0.958,"y":-0.826,"c":"b"},{"x":0.981,"y":-0.871,"c":"b"},{"x":0.634,"y":-0.915,"c":"b"},{"x":0.727,"y":-0.893,"c":"b"},{"x":0.819,"y":-0.893,"c":"b"},{"x":0.912,"y":-0.915,"c":"b"},{"x":0.565,"y":-0.759,"c":"b"},{"x":0.681,"y":-0.759,"c":"b"},{"x":0.796,"y":-0.759,"c":"b"},{"x":0.889,"y":-0.759,"c":"b"}
],
"sisa":[
{"x":-0.992,"y":0.99,"c":"r"},{"x":-0.969,"y":0.94,"c":"r"},{"x":-0.945,"y":0.889,"c":"r"},{"x":-0.921,"y":0.965,"c":"r"},{"x":-0.897,"y":0.99,"c":"r"},{"x":-0.85,"y":0.965,"c":"r"},{"x":-0.874,"y":0.915,"c":"r"},{"x":-0.969,"y":0.864,"c":"r"},{"x":-0.992,"y":0.638,"c":"r"},{"x":-0.969,"y":0.588,"c":"r"},{"x":-0.945,"y":0.538,"c":"r"},{"x":-0.921,"y":0.613,"c":"r"},{"x":-0.897,"y":0.487,"c":"r"},{"x":-0.945,"y":0.437,"c":"r"},{"x":-0.874,"y":0.588,"c":"r"},{"x":-0.969,"y":0.487,"c":"r"},{"x":-0.945,"y":0.211,"c":"r"},{"x":-0.921,"y":0.161,"c":"r"},{"x":-0.897,"y":0.111,"c":"r"},{"x":-0.874,"y":0.186,"c":"r"},{"x":-0.945,"y":0.035,"c":"r"},{"x":-0.921,"y":0.06,"c":"r"},{"x":-0.897,"y":0.01,"c":"r"},{"x":-0.945,"y":-0.191,"c":"r"},{"x":-0.921,"y":-0.266,"c":"r"},{"x":-0.897,"y":-0.216,"c":"r"},{"x":-0.945,"y":-0.367,"c":"r"},{"x":-0.969,"y":-0.417,"c":"r"},{"x":-0.921,"y":-0.342,"c":"r"},{"x":-0.897,"y":-0.291,"c":"r"},
{"x":-0.731,"y":0.99,"c":"b"},{"x":-0.684,"y":1.0,"c":"b"},{"x":-0.636,"y":0.965,"c":"b"},{"x":-0.589,"y":0.94,"c":"b"},{"x":-0.565,"y":0.889,"c":"b"},{"x":-0.613,"y":0.915,"c":"b"},{"x":-0.684,"y":0.573,"c":"b"},{"x":-0.565,"y":0.588,"c":"b"},{"x":-0.518,"y":0.563,"c":"b"},{"x":-0.47,"y":0.598,"c":"b"},{"x":-0.423,"y":0.563,"c":"b"},{"x":-0.399,"y":0.638,"c":"b"},{"x":-0.385,"y":0.513,"c":"b"},{"x":-0.446,"y":0.538,"c":"b"},{"x":-0.992,"y":-0.492,"c":"b"},{"x":-0.969,"y":-0.568,"c":"b"},{"x":-0.945,"y":-0.618,"c":"b"},{"x":-0.992,"y":-0.668,"c":"b"},{"x":-0.921,"y":-0.543,"c":"b"},{"x":-0.969,"y":-0.744,"c":"b"},{"x":-0.945,"y":-0.467,"c":"b"},{"x":-0.897,"y":-0.643,"c":"b"},{"x":-0.969,"y":-0.869,"c":"b"},{"x":-0.992,"y":-0.945,"c":"b"},{"x":-0.945,"y":-0.97,"c":"b"},{"x":-0.897,"y":-0.995,"c":"b"},{"x":-0.85,"y":-0.97,"c":"b"},{"x":-0.969,"y":-1.02,"c":"b"},{"x":-0.921,"y":-0.92,"c":"b"},
{"x":-0.565,"y":0.337,"c":"g"},{"x":-0.541,"y":0.312,"c":"g"},{"x":-0.494,"y":0.261,"c":"g"},{"x":-0.47,"y":0.161,"c":"g"},{"x":-0.446,"y":0.136,"c":"g"},{"x":-0.541,"y":-0.251,"c":"g"},{"x":-0.399,"y":-0.266,"c":"g"},{"x":-0.636,"y":-0.543,"c":"g"},{"x":-0.589,"y":-0.593,"c":"g"},{"x":-0.541,"y":-0.568,"c":"g"},{"x":-0.494,"y":-0.518,"c":"g"},{"x":-0.47,"y":-0.643,"c":"g"},{"x":-0.423,"y":-0.668,"c":"g"},{"x":-0.518,"y":-0.618,"c":"g"},{"x":-0.613,"y":-0.97,"c":"g"},{"x":-0.565,"y":-0.97,"c":"g"},{"x":-0.494,"y":-0.92,"c":"g"},{"x":-0.446,"y":-0.96,"c":"g"},{"x":-0.399,"y":-0.97,"c":"g"},{"x":-0.351,"y":-0.985,"c":"g"},{"x":-0.66,"y":-0.985,"c":"g"},{"x":-0.518,"y":-0.995,"c":"g"},
{"x":-0.161,"y":0.94,"c":"p"},{"x":-0.114,"y":0.95,"c":"p"},{"x":-0.066,"y":0.955,"c":"p"},{"x":-0.043,"y":0.94,"c":"p"},{"x":-0.138,"y":0.588,"c":"p"},{"x":-0.114,"y":0.663,"c":"p"},{"x":-0.161,"y":0.513,"c":"p"},{"x":-0.209,"y":0.437,"c":"p"},{"x":-0.114,"y":0.412,"c":"p"},{"x":-0.185,"y":0.286,"c":"p"},{"x":-0.138,"y":0.236,"c":"p"},{"x":-0.09,"y":0.186,"c":"p"},{"x":-0.043,"y":0.211,"c":"p"},{"x":0.005,"y":0.211,"c":"p"},{"x":-0.066,"y":0.111,"c":"p"},{"x":-0.066,"y":-0.191,"c":"p"},{"x":-0.09,"y":-0.266,"c":"p"},{"x":-0.114,"y":-0.256,"c":"p"},{"x":-0.043,"y":-0.141,"c":"p"},
{"x":0.076,"y":0.98,"c":"o"},{"x":0.147,"y":0.965,"c":"o"},{"x":0.218,"y":0.955,"c":"o"},{"x":0.29,"y":0.95,"c":"o"},{"x":0.266,"y":0.663,"c":"o"},{"x":0.29,"y":0.678,"c":"o"},{"x":0.242,"y":0.538,"c":"o"},{"x":0.29,"y":0.487,"c":"o"},{"x":0.313,"y":0.462,"c":"o"},{"x":-0.28,"y":-0.568,"c":"o"},{"x":-0.233,"y":-0.618,"c":"o"},{"x":-0.185,"y":-0.643,"c":"o"},{"x":-0.138,"y":-0.593,"c":"o"},{"x":-0.09,"y":-0.568,"c":"o"},{"x":-0.019,"y":-0.593,"c":"o"},{"x":-0.256,"y":-0.995,"c":"o"},{"x":-0.209,"y":-0.97,"c":"o"},{"x":-0.161,"y":-0.945,"c":"o"},{"x":-0.114,"y":-0.985,"c":"o"},{"x":-0.09,"y":-0.97,"c":"o"},{"x":-0.043,"y":-0.985,"c":"o"},{"x":0.005,"y":-0.995,"c":"o"},
{"x":0.432,"y":0.613,"c":"n"},{"x":0.551,"y":0.603,"c":"n"},{"x":0.503,"y":0.161,"c":"n"},{"x":0.575,"y":0.261,"c":"n"},{"x":0.622,"y":0.186,"c":"n"},{"x":0.622,"y":0.06,"c":"n"},{"x":0.575,"y":0.01,"c":"n"},{"x":0.527,"y":-0.141,"c":"n"},{"x":0.551,"y":-0.216,"c":"n"},{"x":0.575,"y":-0.266,"c":"n"},{"x":0.646,"y":-0.191,"c":"n"},{"x":0.67,"y":-0.09,"c":"n"},{"x":0.693,"y":-0.216,"c":"n"},{"x":0.598,"y":-0.317,"c":"n"},{"x":0.503,"y":-0.241,"c":"n"},
{"x":0.123,"y":-0.09,"c":"y"},{"x":0.185,"y":-0.216,"c":"y"},{"x":0.171,"y":0.186,"c":"y"},{"x":0.195,"y":0.136,"c":"y"},{"x":0.218,"y":0.111,"c":"y"},{"x":0.29,"y":0.211,"c":"y"},{"x":0.313,"y":-0.166,"c":"y"},{"x":0.266,"y":-0.166,"c":"y"},{"x":0.408,"y":-0.216,"c":"y"},{"x":0.432,"y":-0.241,"c":"y"},{"x":0.171,"y":-0.543,"c":"y"},{"x":0.218,"y":-0.568,"c":"y"},{"x":0.266,"y":-0.668,"c":"y"},{"x":0.313,"y":-0.769,"c":"y"},{"x":0.052,"y":-0.97,"c":"y"},{"x":0.123,"y":-0.97,"c":"y"},{"x":0.171,"y":-0.97,"c":"y"},{"x":0.218,"y":-0.97,"c":"y"},{"x":0.29,"y":-0.985,"c":"y"},{"x":0.337,"y":-0.97,"c":"y"},{"x":0.385,"y":-0.985,"c":"y"},
{"x":0.978,"y":0.487,"c":"k"},{"x":0.978,"y":0.437,"c":"k"},{"x":0.598,"y":-0.543,"c":"k"},{"x":0.646,"y":-0.593,"c":"k"},{"x":0.693,"y":-0.618,"c":"k"},{"x":0.717,"y":-0.643,"c":"k"},{"x":0.67,"y":-0.568,"c":"k"},{"x":0.551,"y":-0.97,"c":"k"},{"x":0.622,"y":-0.98,"c":"k"},{"x":0.693,"y":-0.97,"c":"k"},{"x":0.717,"y":-0.985,"c":"k"},
{"x":0.992,"y":0.286,"c":"a"},{"x":0.954,"y":0.161,"c":"a"},{"x":0.954,"y":0.211,"c":"a"},{"x":0.978,"y":-0.241,"c":"a"},{"x":1.002,"y":-0.266,"c":"a"},{"x":0.978,"y":-0.342,"c":"a"},{"x":0.954,"y":-0.518,"c":"a"},{"x":0.978,"y":-0.568,"c":"a"},{"x":1.002,"y":-0.618,"c":"a"},{"x":0.978,"y":-0.693,"c":"a"},{"x":0.992,"y":-0.97,"c":"a"}
]
},
"hconcat":[
{
"width":409,"height":308,
"encoding":{
"x":{"field":"e","type":"quantitative","title":"Episodes","scale":{"domain":[-5.1,104.6],"nice":false,"zero":false},"axis":{"values":[0,20,40,60,80,100],"labelFontSize":16,"labelPadding":1,"titleFont":"Liberation Serif","titleFontSize":16,"titlePadding":3}},
"y":{"field":"m","type":"quantitative","title":"Mean Reward","scale":{"domain":[-108.4,-0.3],"nice":false,"zero":false},"axis":{"values":[-100,-80,-60,-40,-20],"labelExpr":"replace(datum.label,'−','-')","labelFontSize":16,"labelPadding":3,"titleFont":"Liberation Serif","titleFontSize":16,"titlePadding":4}},
"color":{"field":"s","type":"nominal","scale":{"domain":["Markov","Autoenc","PixelPred","TrueState","SISA(Ours)"],"range":["#4daf4a","#984ea3","#ff7f00","#377eb8","#e41a1c"]},"legend":{"title":null,"orient":"none","legendX":156,"legendY":229,"columns":2,"symbolType":"stroke","symbolSize":900,"symbolStrokeWidth":2,"symbolOpacity":1,"labelFont":"Liberation Serif","labelFontSize":14,"labelColor":"#262626","labelOffset":12,"columnPadding":30,"rowPadding":-2}}
},
"layer":[
{"data":{"name":"lines"},"mark":{"type":"errorband","band":{"opacity":0.15}},"encoding":{"yError":{"field":"w"}}},
{"data":{"name":"lines"},"mark":{"type":"line","strokeWidth":1.5}},
{"data":{"name":"ann"},"mark":{"type":"rule","strokeDash":[4,3],"strokeWidth":1},"encoding":{"y2":{"datum":-80}}},
{"data":{"name":"ann"},"mark":{"type":"rule","strokeDash":[4,3],"strokeWidth":1},"encoding":{"x2":{"datum":100}}},
{"data":{"name":"ann"},"mark":{"type":"circle","size":40,"opacity":1}},
{"data":{"name":"ann"},"transform":[{"filter":"datum.s==='SISA(Ours)'"}],"mark":{"type":"text","font":"Liberation Serif","fontSize":16,"dx":-22,"dy":-9,"align":"center","baseline":"middle"},"encoding":{"text":{"field":"lab"}}},
{"data":{"name":"ann"},"transform":[{"filter":"datum.s==='TrueState'"}],"mark":{"type":"text","font":"Liberation Serif","fontSize":16,"dx":25,"dy":-9,"align":"center","baseline":"middle"},"encoding":{"text":{"field":"lab"}}},
{"data":{"name":"ann"},"transform":[{"filter":"datum.s==='Markov'"}],"mark":{"type":"text","font":"Liberation Serif","fontSize":16,"dx":82,"dy":11,"align":"center","baseline":"middle"},"encoding":{"text":{"field":"lab"}}},
{"data":{"name":"ann"},"transform":[{"filter":"datum.s==='PixelPred'"}],"mark":{"type":"text","font":"Liberation Serif","fontSize":16,"dx":44,"dy":23.5,"align":"center","baseline":"middle"},"encoding":{"text":{"field":"lab"}}},
{"data":{"name":"ann"},"transform":[{"filter":"datum.s==='Autoenc'"}],"mark":{"type":"text","font":"Liberation Serif","fontSize":16,"dx":-16,"dy":-12,"align":"center","baseline":"middle"},"encoding":{"text":{"field":"lab"}}}
]
},
{
"vconcat":[
{"width":10,"height":1,"data":{"values":[]},"mark":{"type":"point"},"view":{"stroke":null}},
{
"concat":[
{"title":"TrueState","width":153,"height":143,"data":{"name":"ts"},"mark":{"type":"circle","size":36,"opacity":1},
"encoding":{"x":{"field":"x","type":"quantitative","title":null,"scale":{"domain":[-0.25,5.25],"nice":false,"zero":false},"axis":{"values":[0,2,4],"labelFontSize":14,"labelPadding":3}},
"y":{"field":"y","type":"quantitative","title":null,"scale":{"domain":[-0.23,5.26],"nice":false,"zero":false},"axis":{"values":[0,2,4],"labelFontSize":14,"labelPadding":3,"minExtent":27}},
"color":{"field":"c","type":"nominal","scale":{"domain":["r","b","g","p","o","y","n","k","a"],"range":["#e41a1c","#377eb8","#4daf4a","#984ea3","#ff7f00","#ffff33","#a65628","#f781bf","#999999"]},"legend":null}}},
{"title":"Without_SA","width":153,"height":143,"data":{"name":"wsa"},"mark":{"type":"circle","size":36,"opacity":1},
"encoding":{"x":{"field":"x","type":"quantitative","title":null,"scale":{"domain":[0.1356,0.1877],"nice":false,"zero":false},"axis":{"values":[0.14,0.16,0.18],"format":".2f","labelFontSize":14,"labelPadding":3}},
"y":{"field":"y","type":"quantitative","title":null,"scale":{"domain":[-0.054,-0.0138],"nice":false,"zero":false},"axis":{"values":[-0.05,-0.04,-0.03,-0.02],"format":".2f","labelExpr":"replace(datum.label,'−','-')","labelFontSize":14,"labelPadding":3,"minExtent":35}},
"color":{"field":"c","type":"nominal","legend":null}}},
{"title":"Markov_SA","width":153,"height":144,"data":{"name":"msa"},"mark":{"type":"circle","size":36,"opacity":1},
"encoding":{"x":{"field":"x","type":"quantitative","title":null,"scale":{"domain":[-1.06,1.03],"nice":false,"zero":false},"axis":{"values":[-1,0,1],"format":"d","labelExpr":"replace(datum.label,'−','-')","labelFontSize":14,"labelPadding":3}},
"y":{"field":"y","type":"quantitative","title":null,"scale":{"domain":[-1.0,0.94],"nice":false,"zero":false},"axis":{"values":[-1,-0.5,0,0.5],"format":".1f","labelExpr":"replace(datum.label,'−','-')","labelFontSize":14,"labelPadding":3,"minExtent":27}},
"color":{"field":"c","type":"nominal","legend":null}}},
{"title":"SISA","width":153,"height":144,"data":{"name":"sisa"},"mark":{"type":"circle","size":36,"opacity":1},
"encoding":{"x":{"field":"x","type":"quantitative","title":null,"scale":{"domain":[-1.063,1.1],"nice":false,"zero":false},"axis":{"values":[-1,0,1],"format":"d","labelExpr":"replace(datum.label,'−','-')","labelFontSize":14,"labelPadding":3}},
"y":{"field":"y","type":"quantitative","title":null,"scale":{"domain":[-1.09,1.085],"nice":false,"zero":false},"axis":{"values":[-1,-0.5,0,0.5,1],"format":".1f","labelExpr":"replace(datum.label,'−','-')","labelFontSize":14,"labelPadding":3,"minExtent":35}},
"color":{"field":"c","type":"nominal","legend":null}}}
],
"columns":2,
"bounds":"full",
"spacing":{"row":-8,"column":-5}
}
],
"spacing":-3
}
],
"spacing":5,
"resolve":{"scale":{"color":"independent"},"legend":{"color":"independent"}},
"config":{
"font":"Liberation Sans",
"view":{"stroke":"#cccccc","strokeWidth":1.2},
"axis":{"domain":false,"ticks":false,"grid":true,"gridColor":"#dedede","gridWidth":1,"labelColor":"#262626","titleColor":"#262626","labelFont":"Liberation Sans","titleFontWeight":"normal","labelFlush":false},
"title":{"font":"Liberation Sans","fontSize":15,"fontWeight":"normal","color":"#262626","offset":2},
"legend":{"labelColor":"#262626"}
}
}
